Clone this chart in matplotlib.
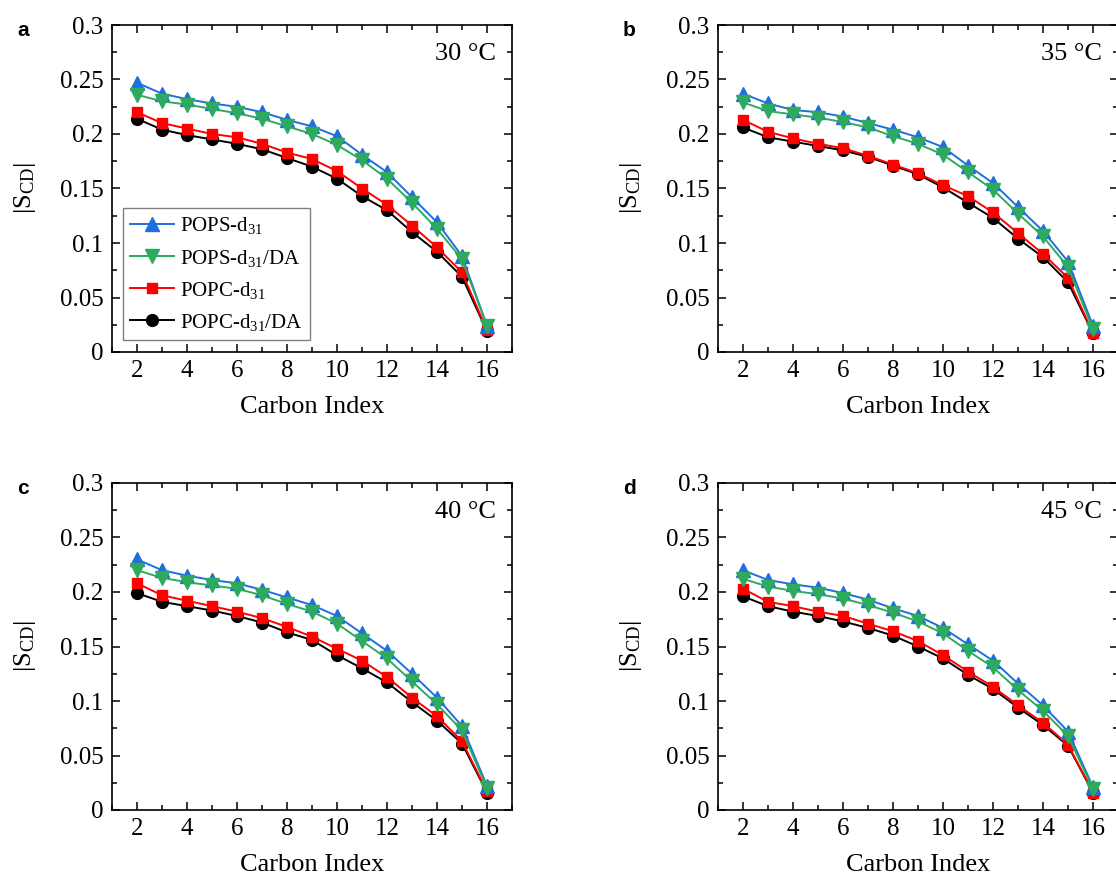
import matplotlib
matplotlib.use("Agg")
import matplotlib.pyplot as plt
from matplotlib.ticker import MultipleLocator, FuncFormatter

plt.rcParams["font.family"] = ["Liberation Serif", "DejaVu Serif"]
plt.rcParams["mathtext.fontset"] = "custom"
plt.rcParams["mathtext.rm"] = "Liberation Serif"
plt.rcParams["mathtext.it"] = "Liberation Serif:italic"

# Carbon positions along the acyl chain
carbon = list(range(2, 17))

temps = ["30 °C", "35 °C", "40 °C", "45 °C"]
panel_letters = ["a", "b", "c", "d"]
series_names = ["POPS-d$_{31}$", "POPS-d$_{31}$/DA", "POPC-d$_{31}$", "POPC-d$_{31}$/DA"]

# |S_CD| order parameters
pops_30 = [0.247, 0.237, 0.232, 0.228, 0.225, 0.220, 0.213, 0.207, 0.198, 0.181, 0.165, 0.142, 0.119, 0.088, 0.024]
pops_da_30 = [0.236, 0.230, 0.227, 0.223, 0.219, 0.214, 0.207, 0.200, 0.190, 0.176, 0.159, 0.137, 0.113, 0.085, 0.024]
popc_30 = [0.220, 0.210, 0.205, 0.200, 0.197, 0.191, 0.183, 0.177, 0.166, 0.150, 0.135, 0.116, 0.096, 0.073, 0.020]
popc_da_30 = [0.214, 0.204, 0.199, 0.195, 0.191, 0.186, 0.178, 0.170, 0.159, 0.143, 0.130, 0.110, 0.092, 0.069, 0.019]

pops_35 = [0.237, 0.228, 0.222, 0.220, 0.216, 0.210, 0.204, 0.197, 0.188, 0.171, 0.155, 0.133, 0.111, 0.083, 0.024]
pops_da_35 = [0.229, 0.221, 0.218, 0.215, 0.211, 0.206, 0.198, 0.191, 0.181, 0.165, 0.149, 0.127, 0.106, 0.078, 0.021]
popc_35 = [0.213, 0.202, 0.196, 0.191, 0.187, 0.180, 0.172, 0.164, 0.153, 0.143, 0.128, 0.109, 0.090, 0.068, 0.017]
popc_da_35 = [0.206, 0.197, 0.193, 0.189, 0.185, 0.179, 0.171, 0.163, 0.151, 0.137, 0.123, 0.104, 0.087, 0.064, 0.017]

pops_40 = [0.230, 0.220, 0.215, 0.211, 0.208, 0.202, 0.195, 0.188, 0.178, 0.162, 0.146, 0.125, 0.103, 0.077, 0.022]
pops_da_40 = [0.220, 0.213, 0.209, 0.206, 0.203, 0.197, 0.189, 0.182, 0.171, 0.155, 0.139, 0.118, 0.097, 0.073, 0.020]
popc_40 = [0.208, 0.197, 0.192, 0.187, 0.182, 0.176, 0.168, 0.159, 0.148, 0.137, 0.122, 0.103, 0.086, 0.063, 0.017]
popc_da_40 = [0.199, 0.191, 0.187, 0.183, 0.178, 0.172, 0.163, 0.156, 0.142, 0.130, 0.117, 0.099, 0.082, 0.061, 0.016]

pops_45 = [0.220, 0.211, 0.207, 0.204, 0.199, 0.193, 0.185, 0.178, 0.167, 0.152, 0.137, 0.116, 0.096, 0.072, 0.021]
pops_da_45 = [0.212, 0.205, 0.201, 0.198, 0.194, 0.188, 0.181, 0.173, 0.162, 0.146, 0.131, 0.110, 0.091, 0.068, 0.019]
popc_45 = [0.203, 0.191, 0.187, 0.182, 0.178, 0.171, 0.164, 0.155, 0.142, 0.127, 0.113, 0.096, 0.080, 0.060, 0.016]
popc_da_45 = [0.196, 0.187, 0.182, 0.178, 0.173, 0.167, 0.160, 0.150, 0.139, 0.124, 0.111, 0.094, 0.078, 0.059, 0.016]

panels = [
    [pops_30, pops_da_30, popc_30, popc_da_30],
    [pops_35, pops_da_35, popc_35, popc_da_35],
    [pops_40, pops_da_40, popc_40, popc_da_40],
    [pops_45, pops_da_45, popc_45, popc_da_45],
]

# style per series: colour, marker, size, zorder
styles = [
    ("#1f6fdc", "^", 9.5, 4),
    ("#2eaa5f", "v", 9.5, 5),
    ("#ff0000", "s", 7.5, 3),
    ("#000000", "o", 8.5, 2),
]

W, H = 1116, 881
fig = plt.figure(figsize=(W / 100, H / 100), dpi=100)

# axes boxes in pixels: left, top (right-hand panels run off the page edge)
boxes = [(112, 25), (718, 25), (112, 483), (718, 483)]
ax_w, ax_h = 400, 327

for i, (left, top) in enumerate(boxes):
    ax = fig.add_axes([left / W, (H - top - ax_h) / H, ax_w / W, ax_h / H])
    handles = []
    for name, vals, (col, mk, ms, z) in zip(series_names, panels[i], styles):
        h, = ax.plot(carbon, vals, color=col, marker=mk, markersize=ms,
                     linewidth=1.4, zorder=z, label=name)
        handles.append(h)

    ax.set_xlim(1, 17)
    ax.set_ylim(0, 0.3)
    ax.xaxis.set_major_locator(MultipleLocator(2))
    ax.xaxis.set_minor_locator(MultipleLocator(1))
    ax.yaxis.set_major_locator(MultipleLocator(0.05))
    ax.yaxis.set_minor_locator(MultipleLocator(0.025))
    ax.yaxis.set_major_formatter(FuncFormatter(lambda v, p: f"{v:g}"))
    ax.tick_params(which="both", direction="in", top=True, right=True, width=1.1)
    ax.tick_params(which="major", length=6, labelsize=18, pad=6)
    ax.tick_params(which="minor", length=3.5)
    for s in ax.spines.values():
        s.set_linewidth(1.2)

    ax.set_xlabel("Carbon Index", fontsize=19)
    ax.xaxis.set_label_coords(0.5, -0.135)
    ax.set_ylabel(r"$|\mathrm{S}_{\mathrm{CD}}|$", fontsize=19)
    ax.yaxis.set_label_coords(-0.185, 0.5)

    ax.text(0.96, 0.91, temps[i], transform=ax.transAxes, ha="right", va="center", fontsize=19)

    fig.text((left - 95) / W, 1 - (top + 6) / H, panel_letters[i], fontsize=15,
             fontweight="bold", family="Liberation Sans", ha="left", va="center")

    if i == 0:
        leg = ax.legend(handles=handles, loc="lower left", bbox_to_anchor=(0.0275, 0.037),
                        borderaxespad=0, fontsize=15, handlelength=2.1, labelspacing=0.53,
                        fancybox=False, edgecolor="#808080", framealpha=1,
                        borderpad=0.35, handletextpad=0.3)
        leg.get_frame().set_linewidth(1.0)

fig.savefig("out.png", dpi=100, facecolor="white")
